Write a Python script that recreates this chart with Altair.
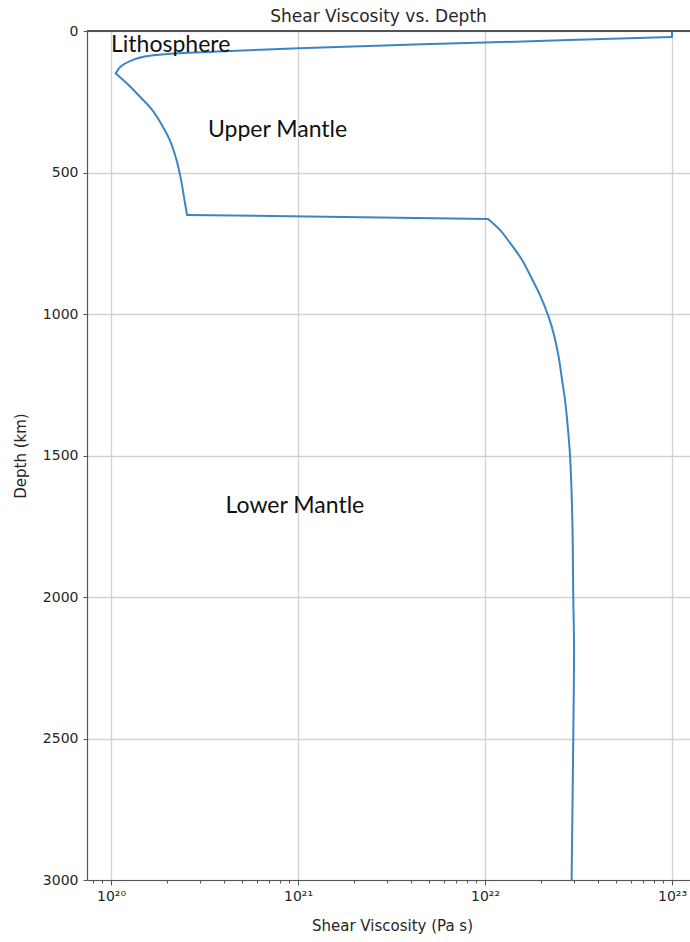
import altair as alt
import pandas as pd

# Viscosity profile: depth (km) and shear viscosity (Pa s), top to bottom
depth_km = [0, 21, 41, 50, 61, 71, 81, 90, 102, 127, 150,
            184, 226, 279, 332, 385, 456, 527, 597, 650,
            664, 703, 749, 809, 869, 933, 1004, 1074, 1152, 1233, 1304, 1410,
            1505, 1728, 2000, 2177, 2495, 3000]
viscosity = [1.0e23, 1.0e23, 1.0e22, 3.18e21, 1.01e21, 4.33e20, 2.0e20, 1.51e20,
             1.31e20, 1.12e20, 1.06e20,
             1.21e20, 1.40e20, 1.66e20, 1.87e20, 2.06e20, 2.24e20, 2.37e20,
             2.47e20, 2.55e20,
             1.038e22, 1.202e22, 1.361e22, 1.578e22, 1.762e22, 1.968e22,
             2.173e22, 2.339e22, 2.477e22, 2.582e22, 2.679e22, 2.780e22,
             2.851e22, 2.931e22, 2.965e22, 2.992e22, 2.965e22, 2.904e22]
# Index ranges (inclusive) of the smooth pieces of the profile
pieces = [(0, 1), (1, 10), (10, 19), (19, 20), (20, 37)]

# Layer annotations
layer_names = ["Lithosphere", "Upper Mantle", "Lower Mantle"]
layer_visc = [1.0e20, 3.3e20, 4.1e20]
layer_depth = [49, 350, 1678]

# Axis ticks
depth_ticks = [0, 500, 1000, 1500, 2000, 2500, 3000]
decades = [1e20, 1e21, 1e22, 1e23]
decade_labels = ["10²⁰", "10²¹", "10²²", "10²³"]
visc_ticks = [8e19, 9e19] + [m * d for d in decades[:3] for m in range(1, 10)] + [1e23]

W, H = 603, 849
x_domain = [7.44e19, 1.248e23]
FONT = "DejaVu Sans"
TXT = "#262626"
SPINE = "#555555"

rows = []
for seg, (a, b) in enumerate(pieces):
    for i in range(a, b + 1):
        rows.append({"seg": seg, "idx": i, "depth": depth_km[i], "visc": viscosity[i]})
profile = pd.DataFrame(rows)
labels = pd.DataFrame({"name": layer_names, "visc": layer_visc, "depth": layer_depth})

is_decade = "abs(log(datum.value)/LN10 - round(log(datum.value)/LN10)) < 0.001"
label_expr = " : ".join(
    f"datum.value == {d:.0e} ? '{t}'" for d, t in zip(decades, decade_labels)
) + " : ''"

x_scale = alt.Scale(type="log", domain=x_domain, nice=False)
y_scale = alt.Scale(domain=[0, 3000], reverse=True, nice=False)

x_axis = alt.Axis(
    values=visc_ticks,
    labelExpr=label_expr,
    tickSize={"condition": {"test": is_decade, "value": 5}, "value": 3},
    gridOpacity={"condition": {"test": is_decade, "value": 1}, "value": 0},
    grid=True, gridColor="#d2d2d2", gridWidth=1.3,
    labelFlush=False, labelOverlap=False, labelPadding=4,
    labelFont=FONT, labelFontSize=14, labelColor=TXT,
    domainColor=SPINE, domainWidth=1.2, tickColor=SPINE, tickWidth=1,
    title="Shear Viscosity (Pa s)", titleFont=FONT, titleFontSize=15,
    titleFontWeight="normal", titleColor=TXT,
    titleX=305, titleY=45, titleBaseline="middle", titleAlign="center",
)
y_axis = alt.Axis(
    values=depth_ticks, format="d", grid=True, gridColor="#d2d2d2", gridWidth=1.3,
    tickSize=4, labelPadding=5,
    labelFont=FONT, labelFontSize=14, labelColor=TXT,
    domainColor=SPINE, domainWidth=1.2, tickColor=SPINE, tickWidth=1,
    title="Depth (km)", titleFont=FONT, titleFontSize=15,
    titleFontWeight="normal", titleColor=TXT,
    titleX=-67, titleY=H / 2, titleAngle=-90,
    titleBaseline="middle", titleAlign="center",
)

line = alt.Chart(profile).mark_line(
    color="#3a86c4", strokeWidth=2, interpolate="catmull-rom",
    strokeCap="round", strokeJoin="round",
).encode(
    x=alt.X("visc:Q", scale=x_scale, axis=x_axis),
    y=alt.Y("depth:Q", scale=y_scale, axis=y_axis),
    detail="seg:N",
    order="idx:Q",
)

text = alt.Chart(labels).mark_text(
    font="Lato", fontSize=23, color="#111111", align="left", baseline="middle"
).encode(x="visc:Q", y="depth:Q", text="name:N")

top_spine = alt.Chart(profile).mark_rule(color=SPINE, strokeWidth=1.2).encode(
    x=alt.value(0), x2=alt.value(W), y=alt.value(0)
)

chart = alt.layer(line, text, top_spine).properties(
    width=W, height=H,
    autosize=alt.AutoSizeParams(type="none"),
    padding={"left": 87, "top": 31, "right": 0, "bottom": 62},
    title=alt.TitleParams("Shear Viscosity vs. Depth", font=FONT, fontSize=17,
                          fontWeight="normal", color=TXT, dx=-10, dy=11,
                          offset=9, frame="group"),
).configure_view(strokeOpacity=0).configure(background="white")

chart.save("out.html", embed_options={"renderer": "svg", "actions": False})
